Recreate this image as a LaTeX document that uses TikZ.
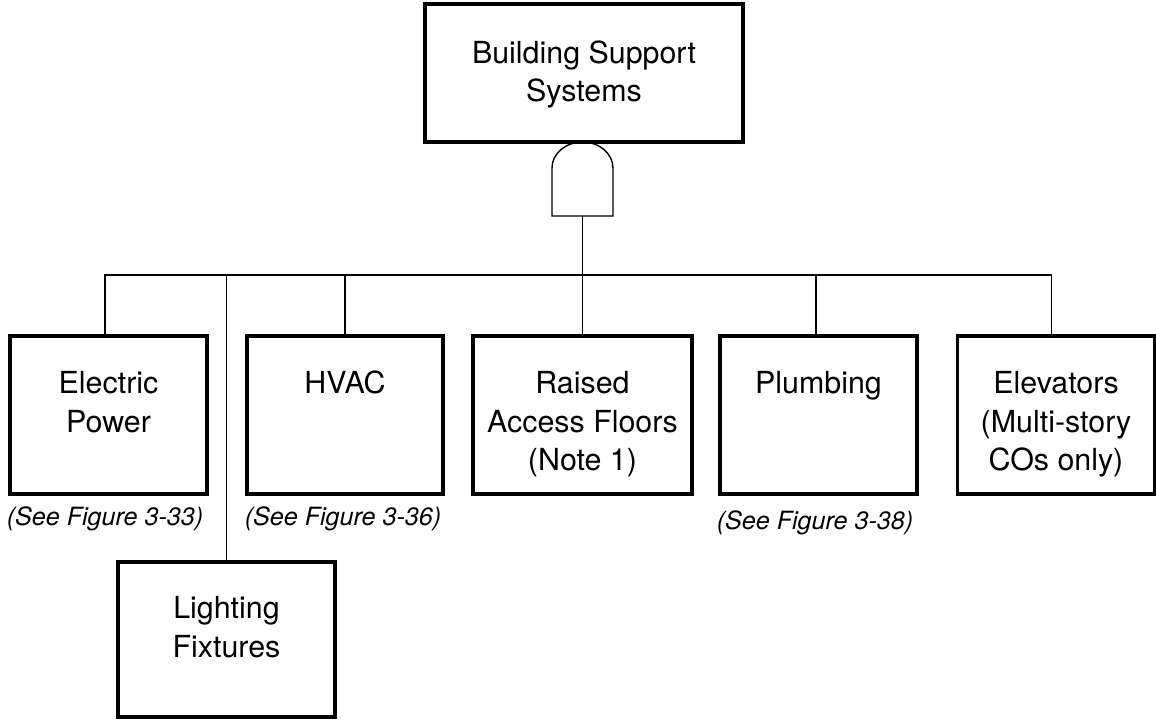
\documentclass[tikz,border=0pt]{standalone}
\usepackage{fontspec}
\setmainfont{TeX Gyre Heros}
\usetikzlibrary{positioning}
\begin{document}
\begin{tikzpicture}[
    x=0.02cm, y=-0.02cm,
    every node/.style={font=\fontsize{17.3}{22.1}\selectfont},
    sysbox/.style={
        draw,
        line width=1.8pt,
        inner sep=0pt,
        align=center,
        text height=1.14cm,
        text depth=2.02cm,
        minimum width=3.94cm,
    },
    twoline/.style={text height=1.92cm, text depth=1.24cm},
    threeline/.style={text height=2.70cm, text depth=0.46cm},
    seefig/.style={
        font=\fontsize{14.3}{17}\selectfont\itshape,
        inner sep=0pt,
    },
    wire/.style={line width=0.8pt},
]

\useasboundingbox (0,0) rectangle (1156,720);

% Y positions (pixels, downwards)
\def\yrow{415}
\def\ybus{275}

% --- Top event ---
\node[sysbox, minimum width=6.36cm, text height=1.96cm, text depth=0.80cm] (BSS) at (584,73)
    {Building Support\\Systems};

% --- AND gate ---
\draw[wire] (552,216) -- (552,168)
    arc[start angle=180, end angle=0, x radius=0.61cm, y radius=0.52cm]
    -- (613,216) -- cycle;
\coordinate (gate) at (582.5,216);
\coordinate (bus) at (0,\ybus);

% --- Row of subsystems ---
\node[sysbox, twoline] (EP) at (108.5,\yrow) {Electric\\Power};
\node[sysbox, minimum width=3.92cm] (HVAC) at (345,\yrow) {HVAC};
\node[sysbox, threeline, minimum width=4.38cm] (RAF) at (582.5,\yrow) {Raised\\Access Floors\\(Note 1)};
\node[sysbox] (PLB) at (818.5,\yrow) {Plumbing};
\node[sysbox, threeline] (ELV) at (1056,\yrow) {Elevators\\(Multi-story\\COs only)};

% --- Lighting, hung below the row ---
\node[sysbox, minimum width=4.34cm, text height=1.90cm, text depth=1.20cm] (LF) at (226.5,639.5)
    {Lighting\\Fixtures};

% Figure references
\node[seefig, below=0.21cm of EP, xshift=-0.07cm] (EPref) {(See Figure 3-33)};
\node[seefig, below=0.21cm of HVAC, xshift=-0.04cm] (HVACref) {(See Figure 3-36)};
\node[seefig, below=0.29cm of PLB, xshift=-0.07cm] (PLBref) {(See Figure 3-38)};

% Connecting lines
\draw[wire] (gate) -- (RAF.north);
\draw[wire] ([xshift=-0.07cm]EP.north) |- ([xshift=-0.09cm]ELV.north |- bus) -- ([xshift=-0.09cm]ELV.north);
\draw[wire] (HVAC.north) -- (HVAC.north |- bus);
\draw[wire] ([xshift=-0.05cm]PLB.north) -- ([xshift=-0.05cm]PLB.north |- bus);
\draw[wire] (LF.north) -- (LF.north |- bus);

\end{tikzpicture}
\end{document}
